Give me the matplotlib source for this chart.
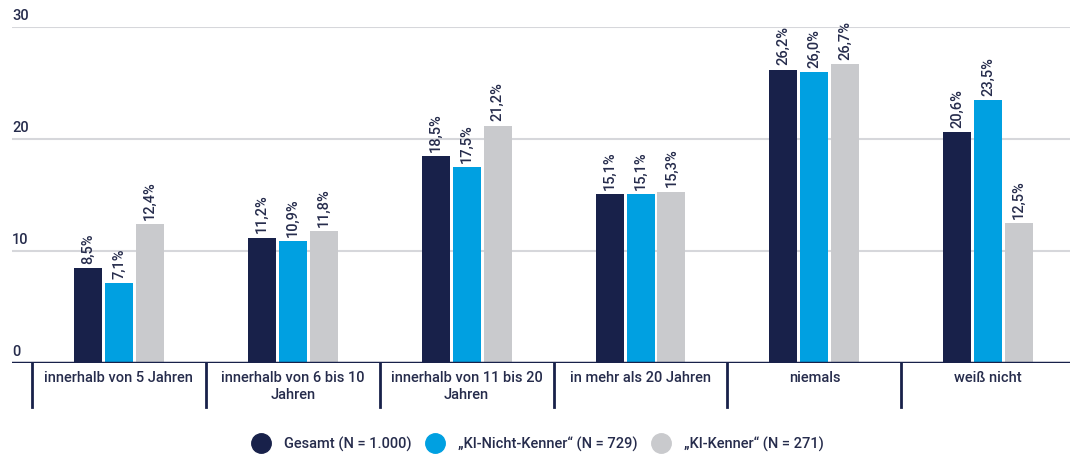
import matplotlib.pyplot as plt
import matplotlib.transforms as mtransforms
import numpy as np
from matplotlib.lines import Line2D

plt.rcParams['font.family'] = ['Roboto', 'DejaVu Sans']
plt.rcParams['font.weight'] = 'medium'

categories = ["innerhalb von 5 Jahren", "innerhalb von 6 bis 10\nJahren",
              "innerhalb von 11 bis 20\nJahren", "in mehr als 20 Jahren",
              "niemals", "weiß nicht"]
gesamt = [8.5, 11.2, 18.5, 15.1, 26.2, 20.6]
nicht_kenner = [7.1, 10.9, 17.5, 15.1, 26.0, 23.5]
kenner = [12.4, 11.8, 21.2, 15.3, 26.7, 12.5]
series_names = ["Gesamt (N = 1.000)", "„KI-Nicht-Kenner“ (N = 729)", "„KI-Kenner“ (N = 271)"]
yticks = [0, 10, 20, 30]

navy = "#18214a"
blue = "#00a0e1"
grey = "#c9cacd"
text_col = "#262c4c"
colors = [navy, blue, grey]

fig = plt.figure(figsize=(10.7, 4.54), dpi=100)
ax = fig.add_axes([12 / 1070, (454 - 363) / 454, 1058 / 1070, 336 / 454])

x = np.arange(len(categories))
w = 0.161
step = 0.178
for k, (vals, c) in enumerate(zip([gesamt, nicht_kenner, kenner], colors)):
    bars = ax.bar(x + (k - 1) * step, vals, width=w, color=c, zorder=3)
    ax.bar_label(bars, labels=[f"{v:.1f}".replace(".", ",") + "%" for v in vals],
                 rotation=90, padding=3, fontsize=10.5, color=text_col)

ax.set_ylim(0, 30)
ax.set_xlim(-0.615, 5.47)

# gridlines
for t in yticks[1:]:
    ax.axhline(t, color="#d6d7db", lw=1.5, zorder=1)
ax.axhline(0, color=navy, lw=2.5, zorder=4)

# y labels sit above the gridlines
trans = mtransforms.blended_transform_factory(ax.transAxes, ax.transData)
for t in yticks:
    ax.text(0.0, t + 0.35, str(t), transform=trans, ha="left", va="bottom",
            fontsize=10.5, color=text_col)

ax.set_yticks([])
ax.set_xticks(x)
ax.set_xticklabels(categories, fontsize=10.5, color=text_col, linespacing=1.25)
ax.tick_params(axis="x", length=0, pad=6)
for s in ax.spines.values():
    s.set_visible(False)

# category separators below the baseline
trans2 = mtransforms.blended_transform_factory(ax.transData, ax.transAxes)
for b in np.arange(len(categories)) - 0.5:
    ax.plot([b, b], [0, -0.131], transform=trans2, color=navy, lw=2, clip_on=False)

handles = [Line2D([], [], marker="o", ls="", markersize=14, color=c) for c in colors]
fig.legend(handles, series_names, loc="center", bbox_to_anchor=(0.5, 1 - 444 / 454),
           ncol=3, frameon=False, fontsize=10.5, handletextpad=0.6, columnspacing=0.6,
           labelcolor=text_col)

fig.savefig("out.png", dpi=100)
